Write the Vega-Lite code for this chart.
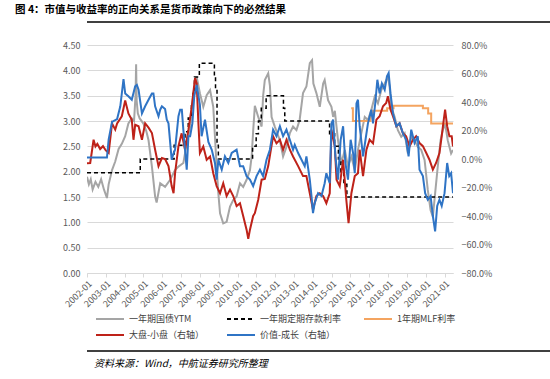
{
  "$schema": "https://vega.github.io/schema/vega-lite/v6.json",
  "padding": {"left": 8, "right": 5, "top": 4, "bottom": 0},
  "background": "white",
  "title": {"text": "图 4：市值与收益率的正向关系是货币政策向下的必然结果", "anchor": "start", "fontSize": 10.5, "fontWeight": "bold", "font": "Noto Sans CJK SC", "color": "#000000", "offset": 4, "dx": 7},
  "spacing": 16,
  "resolve": {"scale": {"color": "independent", "strokeDash": "independent"}},
  "datasets": {
    "ytm": [
      {"yr":2002.00,"v":1.90},{"yr":2002.10,"v":1.75},{"yr":2002.20,"v":1.85},{"yr":2002.30,"v":1.65},{"yr":2002.45,"v":1.80},{"yr":2002.60,"v":1.70},{"yr":2002.75,"v":1.85},{"yr":2002.90,"v":1.65},{"yr":2003.06,"v":1.48},{"yr":2003.15,"v":1.75},{"yr":2003.33,"v":2.03},{"yr":2003.50,"v":2.20},{"yr":2003.68,"v":2.45},{"yr":2003.85,"v":2.55},{"yr":2004.03,"v":2.70},{"yr":2004.20,"v":2.95},{"yr":2004.38,"v":3.05},{"yr":2004.50,"v":3.00},{"yr":2004.58,"v":3.50},{"yr":2004.61,"v":4.12},{"yr":2004.64,"v":3.40},{"yr":2004.70,"v":3.15},{"yr":2004.80,"v":3.05},{"yr":2005.00,"v":2.95},{"yr":2005.15,"v":2.80},{"yr":2005.27,"v":2.62},{"yr":2005.45,"v":2.10},{"yr":2005.62,"v":1.51},{"yr":2005.70,"v":1.39},{"yr":2005.89,"v":1.77},{"yr":2006.15,"v":1.70},{"yr":2006.42,"v":1.84},{"yr":2006.68,"v":2.03},{"yr":2006.86,"v":2.10},{"yr":2007.12,"v":2.17},{"yr":2007.30,"v":2.56},{"yr":2007.48,"v":2.89},{"yr":2007.65,"v":3.55},{"yr":2007.83,"v":3.87},{"yr":2008.00,"v":3.55},{"yr":2008.18,"v":3.28},{"yr":2008.36,"v":3.51},{"yr":2008.54,"v":3.61},{"yr":2008.71,"v":3.28},{"yr":2008.80,"v":2.69},{"yr":2008.89,"v":2.10},{"yr":2008.98,"v":1.57},{"yr":2009.07,"v":1.18},{"yr":2009.24,"v":0.98},{"yr":2009.42,"v":1.01},{"yr":2009.60,"v":1.31},{"yr":2009.77,"v":1.44},{"yr":2009.95,"v":1.51},{"yr":2010.13,"v":1.77},{"yr":2010.30,"v":1.70},{"yr":2010.48,"v":1.84},{"yr":2010.66,"v":2.03},{"yr":2010.75,"v":2.30},{"yr":2010.83,"v":2.80},{"yr":2010.92,"v":3.30},{"yr":2011.10,"v":3.08},{"yr":2011.28,"v":2.89},{"yr":2011.36,"v":3.50},{"yr":2011.45,"v":3.81},{"yr":2011.63,"v":3.94},{"yr":2011.72,"v":3.70},{"yr":2011.81,"v":3.08},{"yr":2011.98,"v":2.89},{"yr":2012.25,"v":2.62},{"yr":2012.42,"v":2.30},{"yr":2012.60,"v":2.49},{"yr":2012.78,"v":2.76},{"yr":2012.95,"v":2.89},{"yr":2013.13,"v":2.82},{"yr":2013.30,"v":3.02},{"yr":2013.48,"v":3.55},{"yr":2013.66,"v":3.68},{"yr":2013.84,"v":4.14},{"yr":2013.96,"v":4.20},{"yr":2014.03,"v":3.74},{"yr":2014.19,"v":3.55},{"yr":2014.37,"v":3.28},{"yr":2014.55,"v":3.74},{"yr":2014.63,"v":3.81},{"yr":2014.81,"v":3.41},{"yr":2014.99,"v":3.28},{"yr":2015.08,"v":3.08},{"yr":2015.17,"v":3.20},{"yr":2015.26,"v":2.89},{"yr":2015.34,"v":2.62},{"yr":2015.52,"v":2.17},{"yr":2015.70,"v":2.43},{"yr":2015.87,"v":2.10},{"yr":2016.05,"v":2.30},{"yr":2016.23,"v":2.03},{"yr":2016.40,"v":2.43},{"yr":2016.58,"v":2.76},{"yr":2016.76,"v":3.08},{"yr":2016.93,"v":3.02},{"yr":2017.11,"v":3.22},{"yr":2017.29,"v":3.48},{"yr":2017.46,"v":3.35},{"yr":2017.64,"v":3.61},{"yr":2017.82,"v":3.74},{"yr":2017.99,"v":3.87},{"yr":2018.08,"v":3.68},{"yr":2018.17,"v":3.28},{"yr":2018.35,"v":3.08},{"yr":2018.52,"v":2.82},{"yr":2018.70,"v":2.69},{"yr":2018.88,"v":2.76},{"yr":2019.05,"v":2.36},{"yr":2019.23,"v":2.69},{"yr":2019.41,"v":2.62},{"yr":2019.58,"v":2.49},{"yr":2019.76,"v":2.43},{"yr":2019.94,"v":2.23},{"yr":2020.11,"v":1.64},{"yr":2020.26,"v":1.24},{"yr":2020.38,"v":1.11},{"yr":2020.50,"v":1.57},{"yr":2020.64,"v":2.10},{"yr":2020.79,"v":2.62},{"yr":2020.91,"v":2.82},{"yr":2021.03,"v":2.95},{"yr":2021.17,"v":2.62},{"yr":2021.35,"v":2.36},{"yr":2021.45,"v":2.43}
    ],
    "dep": [
      {"yr":2002.00,"v":1.98},{"yr":2004.83,"v":2.25},{"yr":2006.63,"v":2.52},{"yr":2007.21,"v":2.79},{"yr":2007.38,"v":3.06},{"yr":2007.55,"v":3.33},{"yr":2007.64,"v":3.60},{"yr":2007.71,"v":3.87},{"yr":2007.97,"v":4.14},{"yr":2008.77,"v":3.87},{"yr":2008.83,"v":3.60},{"yr":2008.91,"v":2.52},{"yr":2008.98,"v":2.25},{"yr":2010.80,"v":2.50},{"yr":2010.99,"v":2.75},{"yr":2011.11,"v":3.00},{"yr":2011.26,"v":3.25},{"yr":2011.52,"v":3.50},{"yr":2012.44,"v":3.25},{"yr":2012.51,"v":3.00},{"yr":2014.89,"v":2.75},{"yr":2015.16,"v":2.50},{"yr":2015.36,"v":2.25},{"yr":2015.49,"v":2.00},{"yr":2015.65,"v":1.75},{"yr":2015.81,"v":1.50},{"yr":2021.45,"v":1.50}
    ],
    "mlf": [
      {"yr":2016.04,"v":3.25},{"yr":2016.13,"v":3.00},{"yr":2017.06,"v":3.10},{"yr":2017.21,"v":3.20},{"yr":2017.95,"v":3.25},{"yr":2018.29,"v":3.30},{"yr":2019.85,"v":3.25},{"yr":2020.13,"v":3.15},{"yr":2020.29,"v":2.95},{"yr":2021.45,"v":2.95}
    ],
    "rel": [
      {"s":"大盘-小盘（右轴）","yr":2002.00,"v":-0.03},{"s":"大盘-小盘（右轴）","yr":2002.17,"v":-0.028},{"s":"大盘-小盘（右轴）","yr":2002.35,"v":0.135},{"s":"大盘-小盘（右轴）","yr":2002.45,"v":0.088},{"s":"大盘-小盘（右轴）","yr":2002.55,"v":0.106},{"s":"大盘-小盘（右轴）","yr":2002.70,"v":0.07},{"s":"大盘-小盘（右轴）","yr":2002.85,"v":0.09},{"s":"大盘-小盘（右轴）","yr":2003.00,"v":0.06},{"s":"大盘-小盘（右轴）","yr":2003.15,"v":0.042},{"s":"大盘-小盘（右轴）","yr":2003.33,"v":0.25},{"s":"大盘-小盘（右轴）","yr":2003.50,"v":0.206},{"s":"大盘-小盘（右轴）","yr":2003.60,"v":0.25},{"s":"大盘-小盘（右轴）","yr":2003.85,"v":0.30},{"s":"大盘-小盘（右轴）","yr":2004.03,"v":0.41},{"s":"大盘-小盘（右轴）","yr":2004.20,"v":0.32},{"s":"大盘-小盘（右轴）","yr":2004.38,"v":0.276},{"s":"大盘-小盘（右轴）","yr":2004.47,"v":0.135},{"s":"大盘-小盘（右轴）","yr":2004.56,"v":0.24},{"s":"大盘-小盘（右轴）","yr":2004.74,"v":0.23},{"s":"大盘-小盘（右轴）","yr":2004.92,"v":0.135},{"s":"大盘-小盘（右轴）","yr":2005.09,"v":0.25},{"s":"大盘-小盘（右轴）","yr":2005.27,"v":0.22},{"s":"大盘-小盘（右轴）","yr":2005.45,"v":0.182},{"s":"大盘-小盘（右轴）","yr":2005.62,"v":0.065},{"s":"大盘-小盘（右轴）","yr":2005.80,"v":-0.05},{"s":"大盘-小盘（右轴）","yr":2005.98,"v":0.007},{"s":"大盘-小盘（右轴）","yr":2006.15,"v":0.0},{"s":"大盘-小盘（右轴）","yr":2006.33,"v":-0.05},{"s":"大盘-小盘（右轴）","yr":2006.50,"v":-0.19},{"s":"大盘-小盘（右轴）","yr":2006.60,"v":-0.24},{"s":"大盘-小盘（右轴）","yr":2006.68,"v":-0.10},{"s":"大盘-小盘（右轴）","yr":2006.86,"v":0.09},{"s":"大盘-小盘（右轴）","yr":2007.03,"v":0.18},{"s":"大盘-小盘（右轴）","yr":2007.21,"v":0.065},{"s":"大盘-小盘（右轴）","yr":2007.39,"v":0.206},{"s":"大盘-小盘（右轴）","yr":2007.57,"v":0.37},{"s":"大盘-小盘（右轴）","yr":2007.74,"v":0.568},{"s":"大盘-小盘（右轴）","yr":2007.83,"v":0.53},{"s":"大盘-小盘（右轴）","yr":2007.92,"v":0.25},{"s":"大盘-小盘（右轴）","yr":2008.00,"v":0.042},{"s":"大盘-小盘（右轴）","yr":2008.18,"v":0.088},{"s":"大盘-小盘（右轴）","yr":2008.36,"v":-0.005},{"s":"大盘-小盘（右轴）","yr":2008.54,"v":0.018},{"s":"大盘-小盘（右轴）","yr":2008.71,"v":-0.10},{"s":"大盘-小盘（右轴）","yr":2008.89,"v":-0.19},{"s":"大盘-小盘（右轴）","yr":2009.07,"v":-0.24},{"s":"大盘-小盘（右轴）","yr":2009.24,"v":-0.17},{"s":"大盘-小盘（右轴）","yr":2009.42,"v":-0.26},{"s":"大盘-小盘（右轴）","yr":2009.60,"v":-0.215},{"s":"大盘-小盘（右轴）","yr":2009.77,"v":-0.26},{"s":"大盘-小盘（右轴）","yr":2009.95,"v":-0.33},{"s":"大盘-小盘（右轴）","yr":2010.13,"v":-0.31},{"s":"大盘-小盘（右轴）","yr":2010.30,"v":-0.40},{"s":"大盘-小盘（右轴）","yr":2010.48,"v":-0.496},{"s":"大盘-小盘（右轴）","yr":2010.57,"v":-0.56},{"s":"大盘-小盘（右轴）","yr":2010.66,"v":-0.496},{"s":"大盘-小盘（右轴）","yr":2010.83,"v":-0.40},{"s":"大盘-小盘（右轴）","yr":2010.92,"v":-0.38},{"s":"大盘-小盘（右轴）","yr":2011.10,"v":-0.286},{"s":"大盘-小盘（右轴）","yr":2011.28,"v":-0.145},{"s":"大盘-小盘（右轴）","yr":2011.45,"v":-0.14},{"s":"大盘-小盘（右轴）","yr":2011.63,"v":-0.05},{"s":"大盘-小盘（右轴）","yr":2011.89,"v":0.16},{"s":"大盘-小盘（右轴）","yr":2012.07,"v":0.11},{"s":"大盘-小盘（右轴）","yr":2012.25,"v":0.135},{"s":"大盘-小盘（右轴）","yr":2012.42,"v":0.065},{"s":"大盘-小盘（右轴）","yr":2012.60,"v":0.135},{"s":"大盘-小盘（右轴）","yr":2012.78,"v":0.065},{"s":"大盘-小盘（右轴）","yr":2012.95,"v":0.018},{"s":"大盘-小盘（右轴）","yr":2013.22,"v":-0.05},{"s":"大盘-小盘（右轴）","yr":2013.48,"v":-0.12},{"s":"大盘-小盘（右轴）","yr":2013.66,"v":-0.12},{"s":"大盘-小盘（右轴）","yr":2013.84,"v":-0.24},{"s":"大盘-小盘（右轴）","yr":2014.01,"v":-0.356},{"s":"大盘-小盘（右轴）","yr":2014.19,"v":-0.26},{"s":"大盘-小盘（右轴）","yr":2014.37,"v":-0.24},{"s":"大盘-小盘（右轴）","yr":2014.55,"v":-0.26},{"s":"大盘-小盘（右轴）","yr":2014.72,"v":-0.31},{"s":"大盘-小盘（右轴）","yr":2014.90,"v":-0.24},{"s":"大盘-小盘（右轴）","yr":2014.99,"v":0.206},{"s":"大盘-小盘（右轴）","yr":2015.17,"v":0.088},{"s":"大盘-小盘（右轴）","yr":2015.26,"v":-0.145},{"s":"大盘-小盘（右轴）","yr":2015.43,"v":-0.19},{"s":"大盘-小盘（右轴）","yr":2015.61,"v":-0.005},{"s":"大盘-小盘（右轴）","yr":2015.78,"v":-0.286},{"s":"大盘-小盘（右轴）","yr":2015.90,"v":-0.45},{"s":"大盘-小盘（右轴）","yr":2016.05,"v":-0.24},{"s":"大盘-小盘（右轴）","yr":2016.23,"v":-0.12},{"s":"大盘-小盘（右轴）","yr":2016.40,"v":-0.10},{"s":"大盘-小盘（右轴）","yr":2016.49,"v":0.065},{"s":"大盘-小盘（右轴）","yr":2016.67,"v":-0.12},{"s":"大盘-小盘（右轴）","yr":2016.85,"v":0.065},{"s":"大盘-小盘（右轴）","yr":2017.02,"v":0.135},{"s":"大盘-小盘（右轴）","yr":2017.20,"v":0.11},{"s":"大盘-小盘（右轴）","yr":2017.38,"v":0.276},{"s":"大盘-小盘（右轴）","yr":2017.55,"v":0.30},{"s":"大盘-小盘（右轴）","yr":2017.73,"v":0.37},{"s":"大盘-小盘（右轴）","yr":2017.90,"v":0.393},{"s":"大盘-小盘（右轴）","yr":2017.99,"v":0.44},{"s":"大盘-小盘（右轴）","yr":2018.13,"v":0.346},{"s":"大盘-小盘（右轴）","yr":2018.26,"v":0.30},{"s":"大盘-小盘（右轴）","yr":2018.44,"v":0.23},{"s":"大盘-小盘（右轴）","yr":2018.61,"v":0.25},{"s":"大盘-小盘（右轴）","yr":2018.79,"v":0.18},{"s":"大盘-小盘（右轴）","yr":2018.96,"v":0.16},{"s":"大盘-小盘（右轴）","yr":2019.14,"v":0.088},{"s":"大盘-小盘（右轴）","yr":2019.32,"v":0.135},{"s":"大盘-小盘（右轴）","yr":2019.49,"v":0.16},{"s":"大盘-小盘（右轴）","yr":2019.67,"v":0.112},{"s":"大盘-小盘（右轴）","yr":2019.85,"v":0.09},{"s":"大盘-小盘（右轴）","yr":2020.03,"v":0.042},{"s":"大盘-小盘（右轴）","yr":2020.20,"v":-0.005},{"s":"大盘-小盘（右轴）","yr":2020.38,"v":-0.075},{"s":"大盘-小盘（右轴）","yr":2020.55,"v":-0.028},{"s":"大盘-小盘（右轴）","yr":2020.73,"v":0.042},{"s":"大盘-小盘（右轴）","yr":2020.85,"v":0.16},{"s":"大盘-小盘（右轴）","yr":2020.96,"v":0.276},{"s":"大盘-小盘（右轴）","yr":2021.03,"v":0.346},{"s":"大盘-小盘（右轴）","yr":2021.14,"v":0.23},{"s":"大盘-小盘（右轴）","yr":2021.26,"v":0.16},{"s":"大盘-小盘（右轴）","yr":2021.38,"v":0.16},{"s":"大盘-小盘（右轴）","yr":2021.45,"v":0.088},
      {"s":"价值-成长（右轴）","yr":2002.00,"v":0.01},{"s":"价值-成长（右轴）","yr":2003.06,"v":0.01},{"s":"价值-成长（右轴）","yr":2003.15,"v":0.135},{"s":"价值-成长（右轴）","yr":2003.33,"v":0.26},{"s":"价值-成长（右轴）","yr":2003.60,"v":0.28},{"s":"价值-成长（右轴）","yr":2003.77,"v":0.37},{"s":"价值-成长（右轴）","yr":2003.94,"v":0.56},{"s":"价值-成长（右轴）","yr":2004.03,"v":0.46},{"s":"价值-成长（右轴）","yr":2004.20,"v":0.44},{"s":"价值-成长（右轴）","yr":2004.38,"v":0.416},{"s":"价值-成长（右轴）","yr":2004.56,"v":0.51},{"s":"价值-成长（右轴）","yr":2004.65,"v":0.52},{"s":"价值-成长（右轴）","yr":2004.74,"v":0.486},{"s":"价值-成长（右轴）","yr":2004.92,"v":0.32},{"s":"价值-成长（右轴）","yr":2005.09,"v":0.37},{"s":"价值-成长（右轴）","yr":2005.27,"v":0.416},{"s":"价值-成长（右轴）","yr":2005.45,"v":0.46},{"s":"价值-成长（右轴）","yr":2005.53,"v":0.46},{"s":"价值-成长（右轴）","yr":2005.62,"v":0.37},{"s":"价值-成长（右轴）","yr":2005.80,"v":0.30},{"s":"价值-成长（右轴）","yr":2005.89,"v":0.346},{"s":"价值-成长（右轴）","yr":2005.98,"v":0.37},{"s":"价值-成长（右轴）","yr":2006.15,"v":0.35},{"s":"价值-成长（右轴）","yr":2006.24,"v":0.276},{"s":"价值-成长（右轴）","yr":2006.33,"v":0.25},{"s":"价值-成长（右轴）","yr":2006.50,"v":-0.005},{"s":"价值-成长（右轴）","yr":2006.60,"v":0.04},{"s":"价值-成长（右轴）","yr":2006.68,"v":0.065},{"s":"价值-成长（右轴）","yr":2006.86,"v":0.30},{"s":"价值-成长（右轴）","yr":2006.95,"v":0.346},{"s":"价值-成长（右轴）","yr":2007.04,"v":0.346},{"s":"价值-成长（右轴）","yr":2007.12,"v":0.206},{"s":"价值-成长（右轴）","yr":2007.30,"v":-0.075},{"s":"价值-成长（右轴）","yr":2007.39,"v":0.16},{"s":"价值-成长（右轴）","yr":2007.48,"v":0.16},{"s":"价值-成长（右轴）","yr":2007.60,"v":0.25},{"s":"价值-成长（右轴）","yr":2007.70,"v":0.44},{"s":"价值-成长（右轴）","yr":2007.83,"v":0.52},{"s":"价值-成长（右轴）","yr":2008.00,"v":0.38},{"s":"价值-成长（右轴）","yr":2008.09,"v":0.16},{"s":"价值-成长（右轴）","yr":2008.27,"v":0.276},{"s":"价值-成长（右轴）","yr":2008.45,"v":0.12},{"s":"价值-成长（右轴）","yr":2008.63,"v":0.065},{"s":"价值-成长（右轴）","yr":2008.80,"v":-0.028},{"s":"价值-成长（右轴）","yr":2008.89,"v":-0.145},{"s":"价值-成长（右轴）","yr":2008.98,"v":-0.005},{"s":"价值-成长（右轴）","yr":2009.16,"v":-0.075},{"s":"价值-成长（右轴）","yr":2009.33,"v":0.018},{"s":"价值-成长（右轴）","yr":2009.51,"v":-0.028},{"s":"价值-成长（右轴）","yr":2009.69,"v":0.042},{"s":"价值-成长（右轴）","yr":2009.95,"v":0.065},{"s":"价值-成长（右轴）","yr":2010.13,"v":-0.05},{"s":"价值-成长（右轴）","yr":2010.30,"v":-0.05},{"s":"价值-成长（右轴）","yr":2010.48,"v":-0.12},{"s":"价值-成长（右轴）","yr":2010.66,"v":-0.145},{"s":"价值-成长（右轴）","yr":2010.83,"v":-0.19},{"s":"价值-成长（右轴）","yr":2011.01,"v":-0.12},{"s":"价值-成长（右轴）","yr":2011.19,"v":-0.075},{"s":"价值-成长（右轴）","yr":2011.36,"v":-0.12},{"s":"价值-成长（右轴）","yr":2011.54,"v":-0.005},{"s":"价值-成长（右轴）","yr":2011.72,"v":0.065},{"s":"价值-成长（右轴）","yr":2011.89,"v":0.206},{"s":"价值-成长（右轴）","yr":2012.07,"v":0.16},{"s":"价值-成长（右轴）","yr":2012.25,"v":0.23},{"s":"价值-成长（右轴）","yr":2012.42,"v":0.16},{"s":"价值-成长（右轴）","yr":2012.60,"v":0.206},{"s":"价值-成长（右轴）","yr":2012.78,"v":0.135},{"s":"价值-成长（右轴）","yr":2012.95,"v":0.065},{"s":"价值-成长（右轴）","yr":2013.04,"v":0.10},{"s":"价值-成长（右轴）","yr":2013.22,"v":0.042},{"s":"价值-成长（右轴）","yr":2013.40,"v":-0.005},{"s":"价值-成长（右轴）","yr":2013.57,"v":-0.05},{"s":"价值-成长（右轴）","yr":2013.66,"v":0.018},{"s":"价值-成长（右轴）","yr":2013.84,"v":-0.145},{"s":"价值-成长（右轴）","yr":2013.93,"v":-0.26},{"s":"价值-成长（右轴）","yr":2014.01,"v":-0.38},{"s":"价值-成长（右轴）","yr":2014.10,"v":-0.31},{"s":"价值-成长（右轴）","yr":2014.28,"v":-0.24},{"s":"价值-成长（右轴）","yr":2014.46,"v":-0.26},{"s":"价值-成长（右轴）","yr":2014.63,"v":-0.17},{"s":"价值-成长（右轴）","yr":2014.72,"v":-0.10},{"s":"价值-成长（右轴）","yr":2014.90,"v":-0.17},{"s":"价值-成长（右轴）","yr":2014.99,"v":0.25},{"s":"价值-成长（右轴）","yr":2015.08,"v":0.276},{"s":"价值-成长（右轴）","yr":2015.20,"v":0.018},{"s":"价值-成长（右轴）","yr":2015.34,"v":-0.145},{"s":"价值-成长（右轴）","yr":2015.48,"v":0.135},{"s":"价值-成长（右轴）","yr":2015.61,"v":0.23},{"s":"价值-成长（右轴）","yr":2015.73,"v":-0.028},{"s":"价值-成长（右轴）","yr":2015.87,"v":-0.145},{"s":"价值-成长（右轴）","yr":2016.01,"v":0.135},{"s":"价值-成长（右轴）","yr":2016.14,"v":0.042},{"s":"价值-成长（右轴）","yr":2016.23,"v":-0.10},{"s":"价值-成长（右轴）","yr":2016.32,"v":0.39},{"s":"价值-成长（右轴）","yr":2016.40,"v":0.416},{"s":"价值-成长（右轴）","yr":2016.49,"v":0.23},{"s":"价值-成长（右轴）","yr":2016.67,"v":0.018},{"s":"价值-成长（右轴）","yr":2016.80,"v":0.135},{"s":"价值-成长（右轴）","yr":2016.93,"v":0.25},{"s":"价值-成长（右轴）","yr":2017.11,"v":0.346},{"s":"价值-成长（右轴）","yr":2017.20,"v":0.25},{"s":"价值-成长（右轴）","yr":2017.32,"v":0.393},{"s":"价值-成长（右轴）","yr":2017.43,"v":0.556},{"s":"价值-成长（右轴）","yr":2017.55,"v":0.46},{"s":"价值-成长（右轴）","yr":2017.67,"v":0.53},{"s":"价值-成长（右轴）","yr":2017.82,"v":0.486},{"s":"价值-成长（右轴）","yr":2017.94,"v":0.58},{"s":"价值-成长（右轴）","yr":2018.03,"v":0.603},{"s":"价值-成长（右轴）","yr":2018.13,"v":0.46},{"s":"价值-成长（右轴）","yr":2018.26,"v":0.32},{"s":"价值-成长（右轴）","yr":2018.44,"v":0.23},{"s":"价值-成长（右轴）","yr":2018.61,"v":0.25},{"s":"价值-成长（右轴）","yr":2018.79,"v":0.18},{"s":"价值-成长（右轴）","yr":2018.96,"v":0.135},{"s":"价值-成长（右轴）","yr":2019.09,"v":0.018},{"s":"价值-成长（右轴）","yr":2019.23,"v":0.206},{"s":"价值-成长（右轴）","yr":2019.41,"v":0.112},{"s":"价值-成长（右轴）","yr":2019.58,"v":0.16},{"s":"价值-成长（右轴）","yr":2019.67,"v":-0.075},{"s":"价值-成长（右轴）","yr":2019.85,"v":-0.12},{"s":"价值-成长（右轴）","yr":2019.97,"v":-0.24},{"s":"价值-成长（右轴）","yr":2020.11,"v":-0.286},{"s":"价值-成长（右轴）","yr":2020.26,"v":-0.26},{"s":"价值-成长（右轴）","yr":2020.38,"v":-0.40},{"s":"价值-成长（右轴）","yr":2020.50,"v":-0.508},{"s":"价值-成长（右轴）","yr":2020.61,"v":-0.33},{"s":"价值-成长（右轴）","yr":2020.73,"v":-0.286},{"s":"价值-成长（右轴）","yr":2020.85,"v":-0.33},{"s":"价值-成长（右轴）","yr":2021.00,"v":-0.24},{"s":"价值-成长（右轴）","yr":2021.14,"v":-0.028},{"s":"价值-成长（右轴）","yr":2021.25,"v":-0.12},{"s":"价值-成长（右轴）","yr":2021.35,"v":-0.10},{"s":"价值-成长（右轴）","yr":2021.45,"v":-0.24}
    ]
  },
  "vconcat": [
    {
      "width": 537, "height": 2,
      "data": {"values": [{"a": 1}]},
      "mark": {"type": "point", "opacity": 0},
      "encoding": {},
      "view": {"fill": "#404040", "stroke": null}
    },
    {
      "spacing": 0,
      "resolve": {"scale": {"color": "independent", "strokeDash": "independent"}},
      "vconcat": [
        {
          "width": 366, "height": 228,
          "layer": [
            {
              "layer": [
                {
                  "data": {"name": "ytm"},
                  "mark": {"type": "line", "strokeWidth": 2, "clip": true},
                  "encoding": {
                    "x": {"field": "yr", "type": "quantitative", "scale": {"domain": [2002, 2021.45], "nice": false, "zero": false}, "axis": {"values": [2002,2003,2004,2005,2006,2007,2008,2009,2010,2011,2012,2013,2014,2015,2016,2017,2018,2019,2020,2021], "labelExpr": "datum.value + '-01'", "labelAngle": -45, "labelOverlap": false, "labelBound": false, "labelFlush": false, "grid": false, "domainColor": "#D9D9D9", "tickColor": "#D9D9D9", "tickSize": 4, "labelPadding": 2, "title": null}},
                    "y": {"field": "v", "type": "quantitative", "scale": {"domain": [0, 4.5], "nice": false, "zero": false}, "axis": {"values": [0,0.5,1,1.5,2,2.5,3,3.5,4,4.5], "format": ".2f", "grid": true, "gridColor": "#D9D9D9", "domain": false, "ticks": false, "labelPadding": 7, "minExtent": 79, "maxExtent": 79, "title": null}},
                    "color": {"datum": "一年期国债YTM", "type": "nominal", "scale": {"domain": ["一年期国债YTM", "一年期定期存款利率", "1年期MLF利率", "大盘-小盘（右轴）", "价值-成长（右轴）"], "range": ["#A5A5A5", "#000000", "#F4A460", "#BE2219", "#2F74C5"]}, "legend": {"title": null}}
                  }
                },
                {
                  "data": {"name": "dep"},
                  "mark": {"type": "line", "strokeWidth": 1.5, "interpolate": "step-after", "clip": true},
                  "encoding": {
                    "x": {"field": "yr", "type": "quantitative", "scale": {"domain": [2002, 2021.45], "nice": false, "zero": false}, "axis": {"values": [2002,2003,2004,2005,2006,2007,2008,2009,2010,2011,2012,2013,2014,2015,2016,2017,2018,2019,2020,2021], "labelExpr": "datum.value + '-01'", "labelAngle": -45, "labelOverlap": false, "labelBound": false, "labelFlush": false, "grid": false, "domainColor": "#D9D9D9", "tickColor": "#D9D9D9", "tickSize": 4, "labelPadding": 2, "title": null}},
                    "y": {"field": "v", "type": "quantitative", "scale": {"domain": [0, 4.5], "nice": false, "zero": false}, "axis": {"values": [0,0.5,1,1.5,2,2.5,3,3.5,4,4.5], "format": ".2f", "grid": true, "gridColor": "#D9D9D9", "domain": false, "ticks": false, "labelPadding": 7, "minExtent": 79, "maxExtent": 79, "title": null}},
                    "color": {"datum": "一年期定期存款利率", "type": "nominal", "legend": {"title": null}},
                    "strokeDash": {"datum": "一年期定期存款利率", "type": "nominal", "scale": {"domain": ["一年期国债YTM", "一年期定期存款利率", "1年期MLF利率", "大盘-小盘（右轴）", "价值-成长（右轴）"], "range": [[1,0],[4,3],[1,0],[1,0],[1,0]]}, "legend": {"title": null}}
                  }
                },
                {
                  "data": {"name": "mlf"},
                  "mark": {"type": "line", "strokeWidth": 2, "interpolate": "step-after", "clip": true},
                  "encoding": {
                    "x": {"field": "yr", "type": "quantitative", "scale": {"domain": [2002, 2021.45], "nice": false, "zero": false}, "axis": {"values": [2002,2003,2004,2005,2006,2007,2008,2009,2010,2011,2012,2013,2014,2015,2016,2017,2018,2019,2020,2021], "labelExpr": "datum.value + '-01'", "labelAngle": -45, "labelOverlap": false, "labelBound": false, "labelFlush": false, "grid": false, "domainColor": "#D9D9D9", "tickColor": "#D9D9D9", "tickSize": 4, "labelPadding": 2, "title": null}},
                    "y": {"field": "v", "type": "quantitative", "scale": {"domain": [0, 4.5], "nice": false, "zero": false}, "axis": {"values": [0,0.5,1,1.5,2,2.5,3,3.5,4,4.5], "format": ".2f", "grid": true, "gridColor": "#D9D9D9", "domain": false, "ticks": false, "labelPadding": 7, "minExtent": 79, "maxExtent": 79, "title": null}},
                    "color": {"datum": "1年期MLF利率", "type": "nominal", "legend": {"title": null}}
                  }
                }
              ]
            },
            {
              "data": {"name": "rel"},
              "mark": {"type": "line", "strokeWidth": 2, "clip": true},
              "encoding": {
                "x": {"field": "yr", "type": "quantitative", "scale": {"domain": [2002, 2021.45], "nice": false, "zero": false}, "axis": {"values": [2002,2003,2004,2005,2006,2007,2008,2009,2010,2011,2012,2013,2014,2015,2016,2017,2018,2019,2020,2021], "labelExpr": "datum.value + '-01'", "labelAngle": -45, "labelOverlap": false, "labelBound": false, "labelFlush": false, "grid": false, "domainColor": "#D9D9D9", "tickColor": "#D9D9D9", "tickSize": 4, "labelPadding": 2, "title": null}},
                "y": {"field": "v", "type": "quantitative", "scale": {"domain": [-0.8, 0.8], "nice": false, "zero": false}, "axis": {"orient": "right", "values": [-0.8,-0.6,-0.4,-0.2,0,0.2,0.4,0.6,0.8], "format": ".1%", "grid": false, "domain": false, "ticks": false, "labelPadding": 8, "title": null}},
                "color": {"field": "s", "type": "nominal", "legend": {"title": null}}
              }
            }
          ],
          "resolve": {"scale": {"y": "independent"}}
        },
        {
          "width": 537, "height": 2,
          "data": {"values": [{"a": 1}]},
          "mark": {"type": "point", "opacity": 0},
          "encoding": {},
          "view": {"fill": "#404040", "stroke": null},
          "title": {"text": "资料来源：Wind，中航证券研究所整理", "orient": "bottom", "anchor": "start", "fontStyle": "italic", "fontSize": 10, "fontWeight": "normal", "font": "Noto Sans CJK SC", "color": "#000000", "offset": 5, "dx": 7}
        }
      ]
    }
  ],
  "config": {
    "font": "Noto Sans CJK SC",
    "view": {"stroke": null},
    "axis": {"labelFont": "Noto Sans CJK SC", "labelFontSize": 9, "labelColor": "#595959"},
    "legend": {"orient": "bottom", "columns": 3, "symbolType": "M-1,0L3,0", "symbolSize": 196, "symbolStrokeWidth": 2, "labelFont": "Noto Sans CJK SC", "labelFontSize": 9, "labelColor": "#404040", "columnPadding": 18, "rowPadding": 3, "labelOffset": 18, "offset": -6, "padding": 8}
  }
}
